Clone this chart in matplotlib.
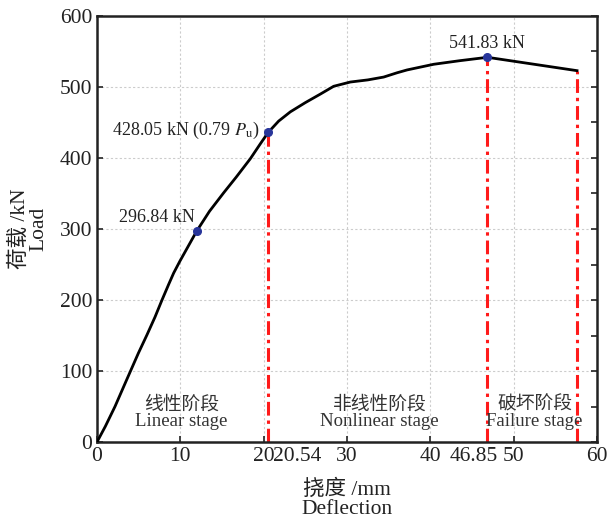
import matplotlib.pyplot as plt
import matplotlib.transforms as mtransforms
import numpy as np

plt.rcParams["font.family"] = ["Liberation Serif", "Noto Sans CJK SC"]
plt.rcParams["mathtext.fontset"] = "stix"

# load-deflection curve
deflection = [0, 1.0, 2.16, 3.5, 4.96, 6.0, 6.96, 7.8, 8.6, 9.2, 9.96, 11.96,
              13.5, 15.2, 16.7, 18.4, 19.6, 20.54, 21.8, 23.2, 25.0, 26.8,
              28.4, 30.4, 32.5, 34.4, 36.0, 37.2, 40.4, 43.5, 46.85, 57.6]
load = [0, 22, 50, 86, 125, 151, 176, 200, 222, 238, 255, 297,
        325, 351, 373, 399, 420, 436, 452, 465, 478, 490,
        501, 507, 510, 514, 520, 524, 532, 537, 541.83, 523]

# key points
key_x = [11.96, 20.54, 46.85]
key_y = [297, 436, 541.83]
key_labels = ["296.84 kN", "428.05 kN (0.79 $P_\\mathrm{u}$)", "541.83 kN"]

# stage boundaries
stage_x = [20.54, 46.85, 57.6]
stage_top = [436, 541.83, 523]
stage_names = [("线性阶段", "Linear stage", 10.1),
               ("非线性阶段", "Nonlinear stage", 33.9),
               ("破坏阶段", "Failure stage", 52.5)]

TXT = "#222222"

fig = plt.figure(figsize=(6.07, 5.23), dpi=100)
ax = fig.add_axes([97 / 607, 81 / 523, 500 / 607, 426 / 523])

ax.plot(deflection, load, color="black", lw=2, zorder=3, solid_joinstyle="round")
for x, top in zip(stage_x, stage_top):
    ax.plot([x, x], [0, top], color="#ff1a1a", lw=2.2, ls=(0, (4.5, 1.6, 1.1, 1.6)), zorder=2)
ax.plot(key_x, key_y, "o", color="#28359a", ms=5.5, zorder=4)

ax.annotate(key_labels[0], (key_x[0], key_y[0]), xytext=(-1.5, 9.5),
            textcoords="offset points", ha="right", va="center", fontsize=13, color=TXT)
ax.annotate(key_labels[1], (key_x[1], key_y[1]), xytext=(-6, 1.5),
            textcoords="offset points", ha="right", va="center", fontsize=13, color=TXT)
ax.annotate(key_labels[2], (key_x[2], key_y[2]), xytext=(0, 10),
            textcoords="offset points", ha="center", va="center", fontsize=13, color=TXT)

for cn, en, xc in stage_names:
    ax.text(xc, 53, cn, ha="center", va="center", fontsize=13.5, color="#333333")
    ax.text(xc, 29, en, ha="center", va="center", fontsize=13.5, color="#333333")

ax.set_xlim(0, 60)
ax.set_ylim(0, 600)
ax.set_xticks(np.arange(0, 61, 10))
ax.set_xticks([20.54, 46.85], minor=True)
ax.set_xticklabels(["0", "10", "20", "30", "40", "50", "60"])
ax.set_xticklabels(["20.54", "46.85"], minor=True)
ax.set_yticks(np.arange(0, 601, 100))
ax.set_yticks(np.arange(50, 600, 100), minor=True)
ax.tick_params(which="both", direction="in", labelsize=15.5, length=4, width=1.2,
               colors=TXT)
ax.tick_params(which="major", axis="y", right=True)
ax.tick_params(which="minor", axis="y", left=False, right=True)
ax.tick_params(which="minor", axis="x", length=0)

# the two extra deflection labels sit off their ticks in the original
shifts = [29, -14]
for lab, dx in zip(ax.get_xticklabels(minor=True), shifts):
    lab.set_transform(lab.get_transform() +
                      mtransforms.ScaledTranslation(dx / 100, 0, fig.dpi_scale_trans))

ax.grid(True, which="major", ls=(0, (2, 2)), color="#cccccc", lw=0.8)
for s in ax.spines.values():
    s.set_linewidth(1.8)
    s.set_color(TXT)

ax.set_xlabel("挠度 /mm\nDeflection", fontsize=15.5, linespacing=1.0, labelpad=10,
              color=TXT)
ax.set_ylabel("荷载 /kN\nLoad", fontsize=15.5, linespacing=0.95, color=TXT)
ax.yaxis.set_label_coords(-0.097, 0.5)

fig.savefig("out.png", dpi=100)
